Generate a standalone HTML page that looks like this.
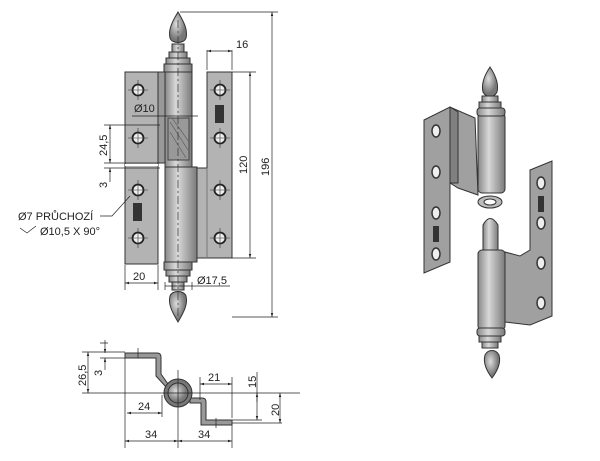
<!DOCTYPE html>
<html><head><meta charset="utf-8"><style>
body{margin:0;background:#fff;width:600px;height:456px;overflow:hidden}
svg text{font-family:"Liberation Sans",sans-serif;font-size:11px;fill:#222}
</style></head><body>
<svg width="600" height="456" viewBox="0 0 600 456" xmlns="http://www.w3.org/2000/svg">
<defs>
<linearGradient id="bar" x1="0" x2="1"><stop offset="0" stop-color="#888"/><stop offset="0.4" stop-color="#d8d8d8"/><stop offset="1" stop-color="#7a7a7a"/></linearGradient>
<radialGradient id="ball" cx="0.4" cy="0.4"><stop offset="0" stop-color="#ddd"/><stop offset="1" stop-color="#777"/></radialGradient>
<marker id="a" viewBox="0 0 10 10" refX="10" refY="5" markerWidth="6" markerHeight="6" orient="auto-start-reverse"><path d="M0,2 L10,5 L0,8z" fill="#222"/></marker>
</defs>
<g stroke="#333" stroke-width="1">
<!-- left plate -->
<rect x="125" y="72" width="33" height="192" fill="#b3b3b3"/>
<rect x="158" y="72" width="7" height="91" fill="#999"/>
<line x1="125" y1="165" x2="158" y2="165" stroke-width="2" stroke="#fff"/>
<!-- right plate -->
<path d="M207,72 H232 V258 H196 V168 H207 Z" fill="#b3b3b3"/>
<line x1="207" y1="168" x2="207" y2="258" stroke="#777"/>
<!-- barrel -->
<rect x="165" y="72" width="27" height="95" fill="url(#bar)"/>
<rect x="165" y="167" width="32" height="95" fill="url(#bar)"/>
<path d="M168,118 H189 V160 H168 Z" fill="#999" stroke="#444"/>
<path d="M170,122 L188,150 M170,132 L186,158 M172,118 L189,142" stroke="#555" stroke-width="0.6"/>
<!-- top finial -->
<path d="M178,12 C172,22 168,30 170,38 C172,44 184,44 186,38 C188,30 184,22 178,12Z" fill="url(#ball)"/>
<rect x="172" y="44" width="12" height="8" fill="url(#bar)"/>
<rect x="169" y="52" width="18" height="6" fill="url(#bar)"/>
<rect x="166" y="58" width="24" height="6" fill="url(#bar)"/>
<rect x="164" y="64" width="28" height="8" fill="url(#bar)"/>
<!-- bottom finial -->
<rect x="164" y="262" width="28" height="8" fill="url(#bar)"/>
<rect x="166" y="270" width="24" height="6" fill="url(#bar)"/>
<rect x="169" y="276" width="18" height="6" fill="url(#bar)"/>
<rect x="172" y="282" width="12" height="8" fill="url(#bar)"/>
<path d="M178,322 C172,312 168,304 170,296 C172,290 184,290 186,296 C188,304 184,312 178,322Z" fill="url(#ball)"/>
</g>
<line x1="178" y1="20" x2="178" y2="318" stroke="#333" stroke-dasharray="8,3,2,3" stroke-width="0.7"/>
<g fill="#eee" stroke="#222" stroke-width="1.8">
<circle cx="138" cy="90" r="5.5"/><circle cx="138" cy="138" r="5.5"/><circle cx="138" cy="190" r="5.5"/><circle cx="138" cy="238" r="5.5"/>
<circle cx="220" cy="90" r="5.5"/><circle cx="220" cy="138" r="5.5"/><circle cx="220" cy="190" r="5.5"/><circle cx="220" cy="238" r="5.5"/>
</g>
<g stroke="#333" stroke-width="0.6">
<path d="M128,90h20M138,80v20M128,138h20M138,128v20M128,190h20M138,180v20M128,238h20M138,228v20M210,90h20M220,80v20M210,138h20M220,128v20M210,190h20M220,180v20M210,238h20M220,228v20"/>
</g>
<rect x="133" y="203" width="9" height="18" fill="#333"/><rect x="215" y="105" width="9" height="18" fill="#333"/>
<!-- dimensions -->
<g stroke="#222" stroke-width="0.7" fill="none">
<path d="M180,12H278M232,317H278M232,72H256M232,258H256M207,50V70M232,50V70"/>
<line x1="272" y1="12" x2="272" y2="317" marker-start="url(#a)" marker-end="url(#a)"/>
<line x1="250" y1="72" x2="250" y2="258" marker-start="url(#a)" marker-end="url(#a)"/>
<line x1="207" y1="51" x2="232" y2="51" marker-start="url(#a)" marker-end="url(#a)"/>
<path d="M104,125H160M104,163H160M104,168H160"/>
<line x1="110" y1="125" x2="110" y2="163" marker-start="url(#a)" marker-end="url(#a)"/>
<line x1="110" y1="182" x2="110" y2="168" marker-end="url(#a)"/>
<path d="M132,116H198"/>
<path d="M125,265V290M158,265V290M165,290V282M192,290V282"/>
<line x1="125" y1="283" x2="158" y2="283" marker-start="url(#a)" marker-end="url(#a)"/>
<line x1="165" y1="286" x2="230" y2="286"/>
<path d="M100,216H112L130,196"/>
<path d="M20,228L27,233L36,226"/>
</g>
<text transform="translate(269,176) rotate(-90)">196</text>
<text transform="translate(247,174) rotate(-90)">120</text>
<text x="236" y="48">16</text>
<text transform="translate(107,156) rotate(-90)">24,5</text>
<text transform="translate(107,188) rotate(-90)">3</text>
<text x="134" y="112">Ø10</text>
<text x="18" y="220">Ø7 PRŮCHOZÍ</text>
<text x="40" y="235">Ø10,5 X 90°</text>
<text x="133" y="280">20</text>
<text x="197" y="284">Ø17,5</text>
<!-- bottom view -->
<g stroke="#333" stroke-width="1">
<path d="M125,353H157Q161,353 161,357V374L168,384 L166,387L156,376V358H125Z" fill="#999"/>
<path d="M190,398H202Q206,398 206,402V420H232V425H201V403H190Z" fill="#999"/>
<circle cx="178" cy="393" r="14" fill="#777"/><circle cx="178" cy="393" r="10" fill="url(#ball)"/>
</g>
<g stroke="#222" stroke-width="0.7" fill="none">
<path d="M82,352H125M82,393H300M100,358H125M100,343H108M125,358V448M232,425V448M178,370V448M162,395V417M200,377V400M232,377V418M232,420H262M232,423H282M138,348v10M216,418v10"/>
<line x1="88" y1="352" x2="88" y2="393" marker-start="url(#a)" marker-end="url(#a)"/>
<line x1="105" y1="340" x2="105" y2="353" marker-end="url(#a)"/>
<line x1="105" y1="370" x2="105" y2="358" marker-end="url(#a)"/>
<line x1="127" y1="413" x2="162" y2="413" marker-start="url(#a)" marker-end="url(#a)"/>
<line x1="125" y1="441" x2="178" y2="441" marker-start="url(#a)" marker-end="url(#a)"/>
<line x1="178" y1="441" x2="232" y2="441" marker-start="url(#a)" marker-end="url(#a)"/>
<line x1="200" y1="384" x2="232" y2="384" marker-start="url(#a)" marker-end="url(#a)"/>
<line x1="257" y1="372" x2="257" y2="420" marker-end="url(#a)"/>
<line x1="257" y1="393" x2="257" y2="402" marker-start="url(#a)"/>
<line x1="280" y1="393" x2="280" y2="423" marker-start="url(#a)" marker-end="url(#a)"/>
</g>
<text transform="translate(86,386) rotate(-90)">26,5</text>
<text transform="translate(102,376) rotate(-90)">3</text>
<text x="138" y="410">24</text>
<text x="145" y="438">34</text>
<text x="198" y="438">34</text>
<text x="208" y="381">21</text>
<text transform="translate(256,388) rotate(-90)">15</text>
<text transform="translate(279,416) rotate(-90)">20</text>
<!-- 3D view -->
<g stroke="#333" stroke-width="1">
<path d="M424,120L450,107L475,118L478,195L458,188L450,183V262L424,273Z" fill="#a0a0a0"/>
<path d="M450,107L458,112V183L450,183Z" fill="#808080"/>
<rect x="478" y="113" width="27" height="80" rx="4" fill="url(#bar)"/>
<path d="M490,67C484,76 481,84 483,92C486,98 494,98 497,92C499,84 496,76 490,67Z" fill="url(#ball)"/>
<rect x="482" y="96" width="16" height="6" fill="url(#bar)"/><rect x="479" y="102" width="22" height="6" fill="url(#bar)"/><rect x="477" y="108" width="28" height="8" rx="3" fill="url(#bar)"/>
<ellipse cx="490" cy="202" rx="12" ry="6" fill="#bbb"/><ellipse cx="490" cy="202" rx="6" ry="3" fill="#fff"/>
<path d="M483,255V225Q490,212 498,225V255Z" fill="url(#bar)"/>
<path d="M505,252L520,256L530,250V170L552,161V316L530,325L505,322Z" fill="#a0a0a0"/>
<rect x="478" y="250" width="27" height="80" rx="4" fill="url(#bar)"/>
<rect x="477" y="328" width="28" height="8" rx="3" fill="url(#bar)"/><rect x="479" y="336" width="22" height="6" fill="url(#bar)"/><rect x="482" y="342" width="16" height="6" fill="url(#bar)"/>
<path d="M492,378C486,370 483,362 485,355C488,349 496,349 499,355C501,362 498,370 492,378Z" fill="url(#ball)"/>
</g>
<g fill="#eee" stroke="#333" stroke-width="1.5">
<ellipse cx="436" cy="131" rx="4" ry="6"/><ellipse cx="436" cy="172" rx="4" ry="6"/><ellipse cx="436" cy="213" rx="4" ry="6"/><ellipse cx="436" cy="254" rx="4" ry="6"/>
<ellipse cx="541" cy="183" rx="4" ry="6"/><ellipse cx="541" cy="223" rx="4" ry="6"/><ellipse cx="541" cy="263" rx="4" ry="6"/><ellipse cx="541" cy="303" rx="4" ry="6"/>
</g>
<rect x="433" y="226" width="6" height="16" fill="#333"/><rect x="538" y="196" width="6" height="16" fill="#333"/>
</svg>
</body></html>
